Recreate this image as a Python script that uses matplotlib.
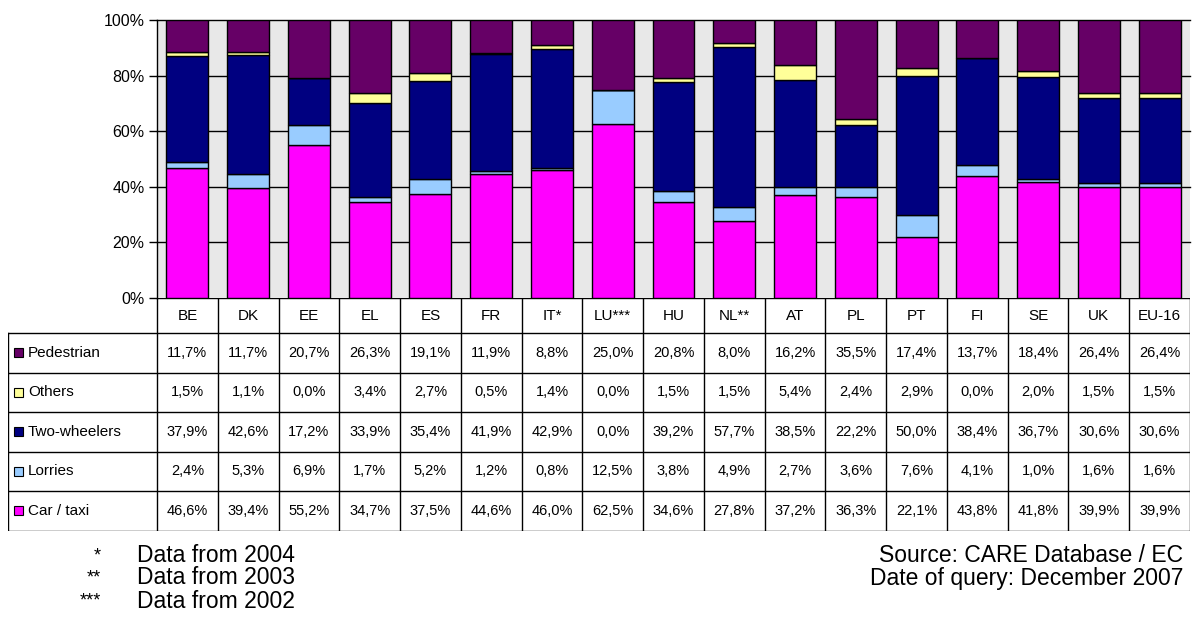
import matplotlib
matplotlib.use("Agg")
import matplotlib.pyplot as plt
import matplotlib.patches as mp
import numpy as np

plt.rcParams["font.family"] = ["Liberation Sans", "DejaVu Sans"]

# 데이터 (표 값 그대로)
countries = ["BE", "DK", "EE", "EL", "ES", "FR", "IT*", "LU***", "HU",
             "NL**", "AT", "PL", "PT", "FI", "SE", "UK", "EU-16"]
car_taxi = [46.6, 39.4, 55.2, 34.7, 37.5, 44.6, 46.0, 62.5, 34.6,
            27.8, 37.2, 36.3, 22.1, 43.8, 41.8, 39.9, 39.9]
lorries = [2.4, 5.3, 6.9, 1.7, 5.2, 1.2, 0.8, 12.5, 3.8,
           4.9, 2.7, 3.6, 7.6, 4.1, 1.0, 1.6, 1.6]
two_wheelers = [37.9, 42.6, 17.2, 33.9, 35.4, 41.9, 42.9, 0.0, 39.2,
                57.7, 38.5, 22.2, 50.0, 38.4, 36.7, 30.6, 30.6]
others = [1.5, 1.1, 0.0, 3.4, 2.7, 0.5, 1.4, 0.0, 1.5,
          1.5, 5.4, 2.4, 2.9, 0.0, 2.0, 1.5, 1.5]
pedestrian = [11.7, 11.7, 20.7, 26.3, 19.1, 11.9, 8.8, 25.0, 20.8,
              8.0, 16.2, 35.5, 17.4, 13.7, 18.4, 26.4, 26.4]
yticks = [0, 20, 40, 60, 80, 100]
notes = [("*", "Data from 2004"), ("**", "Data from 2003"), ("***", "Data from 2002")]
source = ["Source: CARE Database / EC", "Date of query: December 2007"]

# 아래부터 쌓는 순서
stack = [("Car / taxi", car_taxi, "#ff00ff"),
         ("Lorries", lorries, "#99ccff"),
         ("Two-wheelers", two_wheelers, "#000080"),
         ("Others", others, "#ffff99"),
         ("Pedestrian", pedestrian, "#660066")]

W, H = 1192, 625
fig = plt.figure(figsize=(W / 100, H / 100), dpi=100)

x_left, x_right = 157, 1190
y_top, y_zero = 20, 298
ax = fig.add_axes([x_left / W, 1 - y_zero / H, (x_right - x_left) / W, (y_zero - y_top) / H])
ax.set_facecolor("#e8e8e8")
n = len(countries)
x = np.arange(n)
bottom = np.zeros(n)
for name, vals, col in stack:
    ax.bar(x, vals, width=0.69, bottom=bottom, color=col, edgecolor="black",
           linewidth=1.0, zorder=3)
    bottom += np.array(vals)
ax.set_xlim(-0.5, n - 0.5)
ax.set_ylim(0, 100)
ax.set_yticks(yticks)
ax.set_yticklabels([f"{t}%" for t in yticks], fontsize=11.5)
for t in yticks[1:]:
    ax.axhline(t, color="black", lw=1.0, zorder=1, clip_on=False)
ax.set_xticks([])
for s in ["top", "right", "bottom"]:
    ax.spines[s].set_visible(False)
ax.spines["left"].set_linewidth(1.0)
ax.tick_params(axis="y", length=6, width=1.0, pad=3)

# 표
tx0, tx1 = 8, 1190
ty0, ty1 = 298, 531
tab = fig.add_axes([tx0 / W, 1 - ty1 / H, (tx1 - tx0) / W, (ty1 - ty0) / H])
tab.set_xlim(tx0, tx1)
tab.set_ylim(ty1, ty0)
tab.axis("off")
col_w = (x_right - x_left) / n
col_edges = [x_left + i * col_w for i in range(n + 1)]
row_edges = [298, 333, 372.5, 412, 451.5, 491, 530.5]
rows = list(reversed(stack))

lw = 1.0
# 가로선
tab.plot([x_left, tx1], [row_edges[0]] * 2, color="black", lw=lw)
for yy in row_edges[1:]:
    tab.plot([tx0, tx1], [yy, yy], color="black", lw=lw)
# 세로선
for xx in col_edges:
    tab.plot([xx, xx], [row_edges[0], row_edges[-1]], color="black", lw=lw)
tab.plot([tx0, tx0], [row_edges[1], row_edges[-1]], color="black", lw=lw)

for i, c in enumerate(countries):
    tab.text(x_left + (i + 0.5) * col_w, (row_edges[0] + row_edges[1]) / 2, c,
             ha="center", va="center", fontsize=11)
for r, (name, vals, col) in enumerate(rows):
    yc = (row_edges[r + 1] + row_edges[r + 2]) / 2
    tab.add_patch(mp.Rectangle((14, yc - 4.5), 9, 9, facecolor=col,
                               edgecolor="black", lw=0.8))
    tab.text(28, yc, name, ha="left", va="center", fontsize=11)
    for i, v in enumerate(vals):
        tab.text(x_left + (i + 0.5) * col_w, yc, f"{v:.1f}%".replace(".", ","),
                 ha="center", va="center", fontsize=10.5)

# 각주
note_y = [556, 578, 601]
for k, (mark, txt) in enumerate(notes):
    yy = 1 - note_y[k] / H
    fig.text(101 / W, yy, mark, ha="right", va="center", fontsize=13)
    fig.text(137 / W, yy, txt, ha="left", va="center", fontsize=16.5)
for k, txt in enumerate(source):
    fig.text(1183 / W, 1 - note_y[k] / H, txt, ha="right", va="center",
             fontsize=16.5)

fig.savefig("out.png", dpi=100)
